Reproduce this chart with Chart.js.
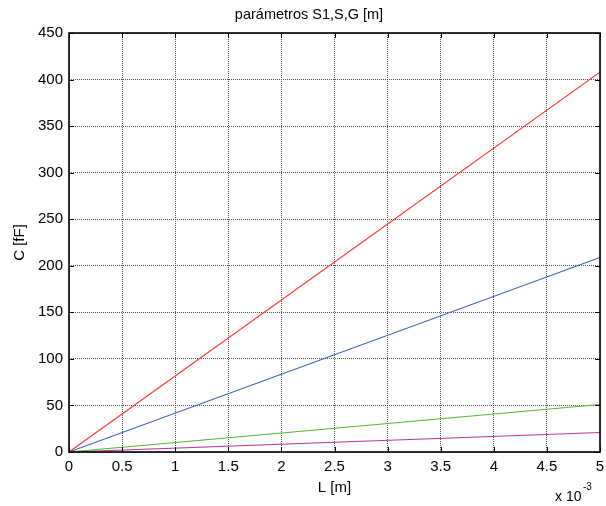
<!DOCTYPE html>
<html>
<head>
<meta charset="utf-8">
<script src="https://cdn.jsdelivr.net/npm/chart.js@4/dist/chart.umd.min.js"></script>
<style>
  html, body { margin: 0; padding: 0; background: #fff; }
  #wrap { width: 606px; height: 506px; }
</style>
</head>
<body>
<div id="wrap"><canvas id="c" width="606" height="506"></canvas></div>
<script>
// Line length L [m] at the sampled points
const lengths = [0, 0.005];
// Capacitance C [fF] for each parameter set
const seriesRed = [0, 408];
const seriesBlue = [0, 209];
const seriesGreen = [0, 51];
const seriesMagenta = [0, 21];
// Axis ticks
const xTicks = [0, 0.0005, 0.001, 0.0015, 0.002, 0.0025, 0.003, 0.0035, 0.004, 0.0045, 0.005];
const yTicks = [0, 50, 100, 150, 200, 250, 300, 350, 400, 450];
const chartTitle = 'parámetros S1,S,G [m]';

const FONT = 'Liberation Sans, Arial, sans-serif';

function pts(ys) { return lengths.map((x, i) => ({ x: x, y: ys[i] })); }

// Inward tick marks on all four sides, the box, title and exponent label
const framePlugin = {
  id: 'frame',
  afterDraw(chart) {
    const { ctx, chartArea: a, scales } = chart;
    const xs = scales.x, ys = scales.y;
    ctx.save();
    ctx.strokeStyle = '#000';
    ctx.lineWidth = 1;
    const L = 5;
    ctx.beginPath();
    xTicks.forEach(v => {
      const px = Math.round(xs.getPixelForValue(v)) + 0.5;
      ctx.moveTo(px, a.bottom); ctx.lineTo(px, a.bottom - L);
      ctx.moveTo(px, a.top); ctx.lineTo(px, a.top + L);
    });
    yTicks.forEach(v => {
      const py = Math.round(ys.getPixelForValue(v)) + 0.5;
      ctx.moveTo(a.left, py); ctx.lineTo(a.left + L, py);
      ctx.moveTo(a.right, py); ctx.lineTo(a.right - L, py);
    });
    ctx.stroke();
    ctx.lineWidth = 1.6;
    ctx.strokeRect(a.left, a.top, a.right - a.left, a.bottom - a.top);
    ctx.fillStyle = '#000';
    // title
    ctx.textAlign = 'center';
    ctx.textBaseline = 'middle';
    ctx.font = '14.5px ' + FONT;
    ctx.fillText(chartTitle, 309, 15);
    // exponent of the x axis
    ctx.textBaseline = 'alphabetic';
    ctx.textAlign = 'left';
    ctx.font = '14px ' + FONT;
    ctx.fillText('x 10', 555, 501);
    ctx.font = '10px ' + FONT;
    ctx.fillText('-3', 583, 490);
    ctx.restore();
  }
};

const bgPlugin = {
  id: 'bg',
  beforeDraw(chart) {
    const ctx = chart.ctx;
    ctx.save();
    ctx.fillStyle = '#fff';
    ctx.fillRect(0, 0, chart.width, chart.height);
    ctx.restore();
  }
};

function ds(label, ys, color) {
  return {
    label: label, data: pts(ys), borderColor: color, backgroundColor: color,
    borderWidth: 1.1, pointRadius: 0, showLine: true, tension: 0
  };
}

new Chart(document.getElementById('c'), {
  type: 'scatter',
  data: {
    datasets: [
      ds('S1', seriesRed, '#ff2a2a'),
      ds('S', seriesBlue, '#3a5cbf'),
      ds('G', seriesGreen, '#55b833'),
      ds('m', seriesMagenta, '#b8369f')
    ]
  },
  options: {
    responsive: false,
    animation: false,
    events: [],
    layout: { padding: { left: 0, right: 6, top: 33, bottom: 0 } },
    plugins: {
      legend: { display: false },
      tooltip: { enabled: false },
      title: { display: false }
    },
    scales: {
      x: {
        type: 'linear', min: 0, max: 0.005,
        afterBuildTicks(s) { s.ticks = xTicks.map(v => ({ value: v })); },
        afterFit(s) { s.height = 54; s.paddingLeft = 0; s.paddingRight = 0; },
        ticks: {
          color: '#000', font: { family: FONT, size: 15 }, padding: 6,
          maxRotation: 0, autoSkip: false,
          callback: v => String(+(v * 1000).toFixed(1))
        },
        grid: { color: '#555', lineWidth: 1, drawTicks: false, tickLength: 0 },
        border: { display: false, dash: [1, 1] },
        title: {
          display: true, text: 'L [m]', color: '#000',
          font: { family: FONT, size: 15 }, padding: { top: 0, bottom: 9 }
        }
      },
      y: {
        type: 'linear', min: 0, max: 450,
        afterBuildTicks(s) { s.ticks = yTicks.map(v => ({ value: v })); },
        afterFit(s) { s.width = 69; s.paddingTop = 0; s.paddingBottom = 0; },
        ticks: {
          color: '#000', font: { family: FONT, size: 15 }, padding: 6,
          autoSkip: false
        },
        grid: { color: '#555', lineWidth: 1, drawTicks: false, tickLength: 0 },
        border: { display: false, dash: [1, 1] },
        title: {
          display: true, text: 'C [fF]', color: '#000',
          font: { family: FONT, size: 15 }, padding: { top: 11, bottom: 0 }
        }
      }
    }
  },
  plugins: [bgPlugin, framePlugin]
});
</script>
</body>
</html>
